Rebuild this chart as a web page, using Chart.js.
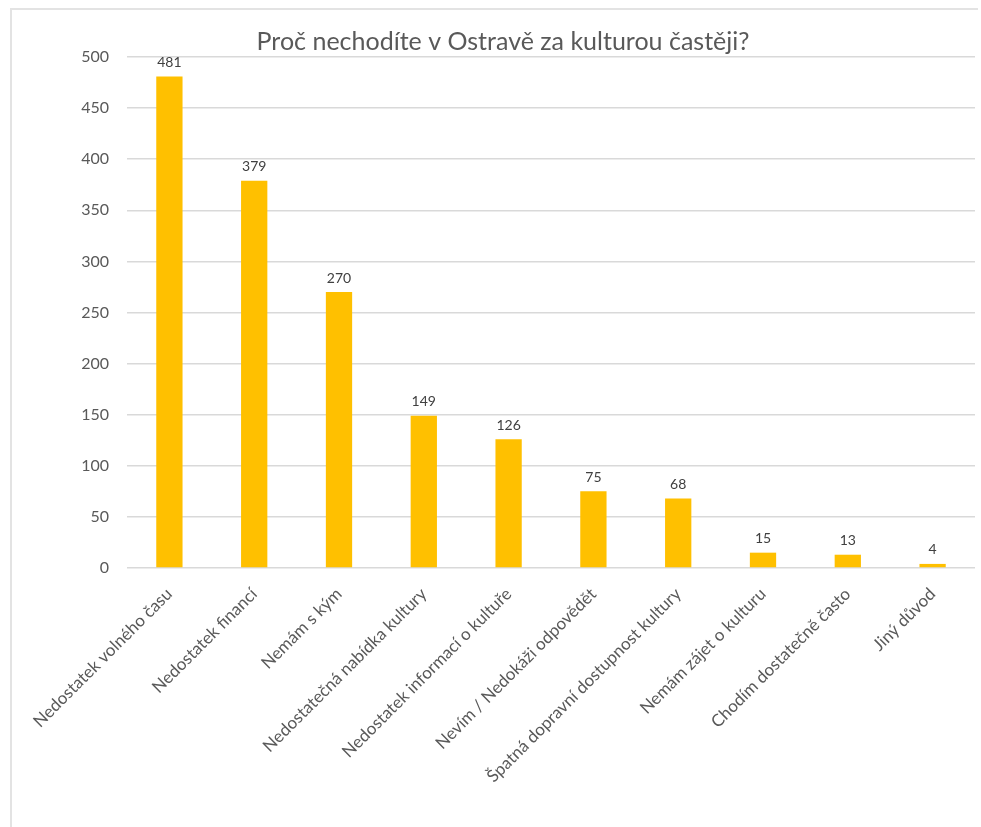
<!DOCTYPE html>
<html>
<head>
<meta charset="utf-8">
<script src="https://cdn.jsdelivr.net/npm/chart.js@4.4.1/dist/chart.umd.min.js"></script>
<style>
    html, body { margin: 0; padding: 0; background: #fff; }
    #wrap { position: relative; width: 981px; height: 827px; overflow: hidden; }
    #frame { position: absolute; left: 10px; top: 8px; width: 966px; height: 830px;
             border-top: 2px solid #e3e3e3; border-left: 2px solid #e3e3e3; }
    #chart { position: absolute; left: 0; top: 0; }
</style>
</head>
<body>
<div id="wrap">
    <div id="frame"></div>
    <canvas id="chart" width="981" height="827"></canvas>
</div>
<script>
const categories = [
    "Nedostatek volného času",
    "Nedostatek financí",
    "Nemám s kým",
    "Nedostatečná nabídka kultury",
    "Nedostatek informací o kultuře",
    "Nevím / Nedokáži odpovědět",
    "Špatná dopravní dostupnost kultury",
    "Nemám zájet o kulturu",
    "Chodím dostatečně často",
    "Jiný důvod"
];
const counts = [481, 379, 270, 149, 126, 75, 68, 15, 13, 4];
const yTicks = [0, 50, 100, 150, 200, 250, 300, 350, 400, 450, 500];

const FONT = "Lato, 'Open Sans', sans-serif";

// draws the number above each bar
const valueLabels = {
    id: "valueLabels",
    afterDatasetsDraw(chart) {
        const ctx = chart.ctx;
        const meta = chart.getDatasetMeta(0);
        ctx.save();
        ctx.font = "14px " + FONT;
        ctx.fillStyle = "#404040";
        ctx.textAlign = "center";
        ctx.textBaseline = "bottom";
        meta.data.forEach(function (bar, i) {
            ctx.fillText(String(counts[i]), bar.x, bar.y - 7);
        });
        ctx.restore();
    }
};

let ctx1 = document.getElementById("chart");

new Chart(ctx1, {
    type: "bar",
    data: {
        labels: categories,
        datasets: [{
            label: "Počet",
            data: counts,
            backgroundColor: "#FFC000",
            borderWidth: 0,
            barPercentage: 0.31,
            categoryPercentage: 1
        }]
    },
    options: {
        responsive: false,
        animation: false,
        layout: {
            padding: { left: 31, right: 6, top: 27, bottom: 0 }
        },
        plugins: {
            legend: { display: false },
            tooltip: { enabled: false },
            title: {
                display: true,
                text: "Proč nechodíte v Ostravě za kulturou častěji?",
                color: "#595959",
                font: { family: FONT, size: 25, weight: "normal" },
                padding: { top: 0, bottom: 0 }
            }
        },
        scales: {
            y: {
                min: 0,
                max: 500,
                afterBuildTicks: function (axis) {
                    axis.ticks = yTicks.map(v => ({ value: v }));
                },
                afterFit: function (axis) {
                    axis.width = 96;
                },
                grid: { color: "#d9d9d9", lineWidth: 1.5, drawTicks: false },
                border: { display: false },
                ticks: {
                    color: "#595959",
                    padding: 18,
                    font: { family: FONT, size: 16 }
                }
            },
            x: {
                afterFit: function (axis) {
                    axis.paddingLeft = 0;
                    axis.paddingRight = 0;
                    axis.height = 259;
                },
                grid: { display: false },
                border: { display: false },
                ticks: {
                    color: "#595959",
                    minRotation: 45,
                    maxRotation: 45,
                    padding: 8,
                    autoSkip: false,
                    font: { family: FONT, size: 17 }
                }
            }
        }
    },
    plugins: [valueLabels]
});
</script>
</body>
</html>
